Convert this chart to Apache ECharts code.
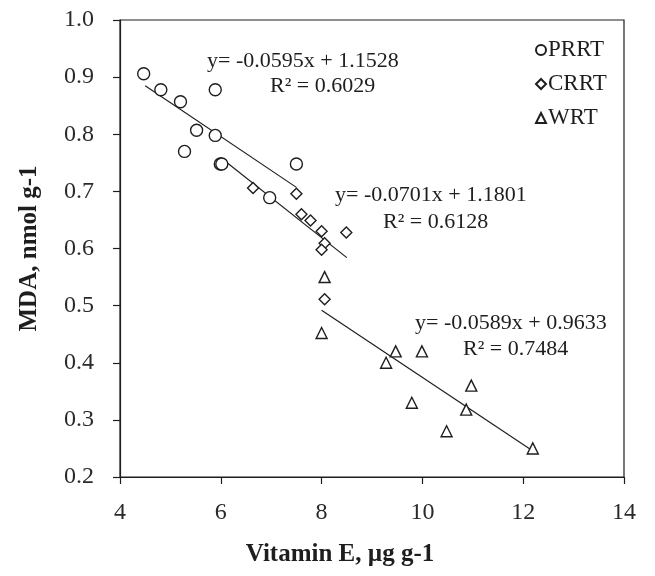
<!DOCTYPE html>
<html><head><meta charset="utf-8">
<script src="https://cdn.jsdelivr.net/npm/echarts@6/dist/echarts.min.js"></script>
<style>html,body{margin:0;padding:0;background:#fff}#c{width:655px;height:576px}</style>
</head><body><div id="c"></div>
<script>
var seriesNames = ['PRRT', 'CRRT', 'WRT'];
var prrt = [[4.47,0.906],[4.81,0.878],[5.2,0.857],[5.89,0.878],[5.52,0.807],[5.89,0.798],[5.28,0.77],[5.99,0.748],[6.02,0.748],[7.5,0.748],[6.97,0.689]];
var crrt = [[6.64,0.706],[7.5,0.696],[7.6,0.66],[7.78,0.649],[8.0,0.63],[8.49,0.628],[8.06,0.609],[8.0,0.598],[8.06,0.511]];
var wrt = [[8.06,0.55],[8.0,0.452],[9.47,0.42],[9.28,0.40],[9.99,0.42],[10.97,0.36],[9.79,0.33],[10.87,0.318],[10.48,0.28],[12.19,0.25]];
var trendPRRT = [[4.5,0.885],[7.5,0.707]];
var trendCRRT = [[6.0,0.759],[8.5,0.584]];
var trendWRT = [[8.0,0.492],[12.2,0.245]];
var eqTexts = [
  ['y= -0.0595x + 1.1528', 'R² = 0.6029'],
  ['y= -0.0701x + 1.1801', 'R² = 0.6128'],
  ['y= -0.0589x + 0.9633', 'R² = 0.7484']
];
var xTicks = [4, 6, 8, 10, 12, 14];
var yTicks = [0.2, 0.3, 0.4, 0.5, 0.6, 0.7, 0.8, 0.9, 1.0];

var F = '"Liberation Serif","Times New Roman",serif';
var INK = '#1e1e1e';
var chart = echarts.init(document.getElementById('c'));
function scatter(name, data, sym, size) {
  return {name: name, type: 'scatter', data: data, symbol: sym, symbolSize: size,
    itemStyle: {color: '#fff', borderColor: INK, borderWidth: 1.4, opacity: 1}, z: 3};
}
function trend(data) {
  return {type: 'line', data: data, symbol: 'none', lineStyle: {color: INK, width: 1.2},
    silent: true, z: 2};
}
var eqPos = [[207, 61, 270, 86], [335, 195, 383, 222], [415, 323, 463, 349]];
var graphics = [];
eqTexts.forEach(function (t, i) {
  var p = eqPos[i];
  graphics.push({type: 'text', x: p[0], y: p[1], style: {text: t[0], font: '22px ' + F, fill: INK, textAlign: 'left', textVerticalAlign: 'middle'}});
  graphics.push({type: 'text', x: p[2], y: p[3], style: {text: t[1], font: '22px ' + F, fill: INK, textAlign: 'left', textVerticalAlign: 'middle'}});
});
chart.setOption({
  animation: false,
  backgroundColor: '#fff',
  grid: {left: 120, right: 31, top: 20, bottom: 99, show: true, borderColor: INK, borderWidth: 1.2, backgroundColor: 'transparent'},
  legend: {
    data: [{name: 'PRRT', icon: 'circle'}, {name: 'CRRT', icon: 'diamond'}, {name: 'WRT', icon: 'triangle'}],
    orient: 'vertical', left: 530, top: 33, itemGap: 10, itemWidth: 10, itemHeight: 10,
    textStyle: {fontFamily: F, fontSize: 23, color: INK, lineHeight: 24, padding: [0, 0, 0, -3]},
    selectedMode: false
  },
  xAxis: {
    type: 'value', min: xTicks[0], max: xTicks[xTicks.length - 1], interval: 2,
    name: 'Vitamin E, µg g-1', nameLocation: 'middle', nameGap: 65,
    nameTextStyle: {fontFamily: F, fontSize: 25, fontWeight: 'bold', color: INK, padding: [0, 64, 0, 0]},
    axisLine: {lineStyle: {color: INK, width: 1.2}},
    axisTick: {length: 7, lineStyle: {color: INK, width: 1.2}},
    axisLabel: {fontFamily: F, fontSize: 24, color: '#2a2a2a', margin: 24},
    splitLine: {show: false}
  },
  yAxis: {
    type: 'value', min: yTicks[0], max: yTicks[yTicks.length - 1], interval: 0.1,
    name: 'MDA, nmol g-1', nameLocation: 'middle', nameGap: 78,
    nameTextStyle: {fontFamily: F, fontSize: 25, fontWeight: 'bold', color: INK},
    axisLine: {lineStyle: {color: INK, width: 1.2}},
    axisTick: {length: 7, lineStyle: {color: INK, width: 1.2}},
    axisLabel: {fontFamily: F, fontSize: 24, color: '#2a2a2a', margin: 26, formatter: function (v) { return v.toFixed(1); }},
    splitLine: {show: false}
  },
  series: [
    scatter('PRRT', prrt, 'circle', 12),
    scatter('CRRT', crrt, 'diamond', 11),
    scatter('WRT', wrt, 'triangle', 11),
    trend(trendPRRT), trend(trendCRRT), trend(trendWRT)
  ],
  graphic: graphics
});
</script></body></html>
